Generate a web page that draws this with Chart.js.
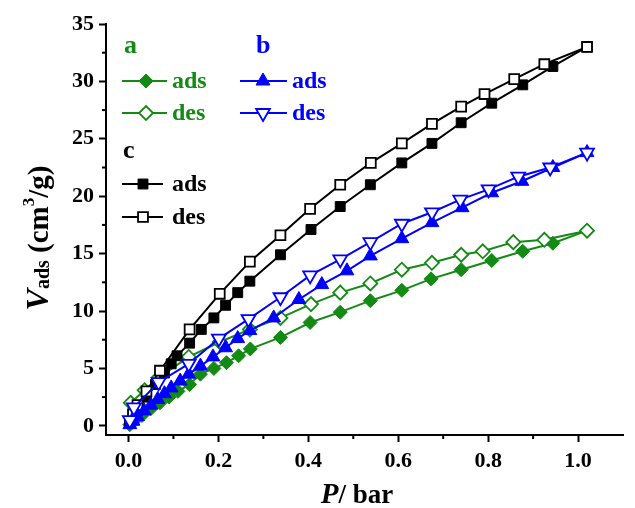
<!DOCTYPE html>
<html>
<head>
<meta charset="utf-8">
<script src="https://cdn.jsdelivr.net/npm/chart.js@4/dist/chart.umd.min.js"></script>
<style>
  body { margin: 0; background: #fff; }
  #wrap { width: 635px; height: 508px; }
</style>
</head>
<body>
<div id="wrap"><canvas id="isoChart" width="635" height="508"></canvas></div>
<script>
// pressure (bar) and adsorbed volume (cm3/g)
const cAdsP = [0.003, 0.02, 0.04, 0.06, 0.08, 0.095, 0.108, 0.136, 0.162, 0.19, 0.216, 0.243, 0.27, 0.338, 0.406, 0.471, 0.538, 0.608, 0.675, 0.74, 0.808, 0.877, 0.944, 1.02];
const cAdsV = [0.3, 1.3, 2.5, 3.6, 4.6, 5.4, 6.1, 7.2, 8.4, 9.4, 10.5, 11.6, 12.6, 14.9, 17.1, 19.1, 21.0, 22.9, 24.6, 26.4, 28.1, 29.7, 31.3, 33.0];
const cDesP = [0.003, 0.01, 0.02, 0.04, 0.07, 0.136, 0.203, 0.27, 0.338, 0.404, 0.471, 0.539, 0.608, 0.675, 0.74, 0.792, 0.858, 0.925, 1.02];
const cDesV = [0.3, 1.0, 1.8, 3.0, 4.8, 8.4, 11.5, 14.3, 16.6, 18.9, 21.0, 22.9, 24.6, 26.3, 27.8, 28.9, 30.2, 31.5, 33.0];

const aAdsP = [0.003, 0.015, 0.03, 0.05, 0.07, 0.09, 0.11, 0.136, 0.16, 0.19, 0.218, 0.245, 0.271, 0.338, 0.404, 0.471, 0.538, 0.608, 0.673, 0.74, 0.808, 0.877, 0.944, 1.02];
const aAdsV = [0.1, 0.5, 0.9, 1.5, 2.0, 2.5, 3.0, 3.6, 4.5, 5.0, 5.5, 6.1, 6.7, 7.7, 9.0, 9.9, 10.9, 11.8, 12.8, 13.6, 14.4, 15.2, 15.9, 17.0];
const aDesP = [0.005, 0.036, 0.067, 0.134, 0.203, 0.27, 0.338, 0.406, 0.471, 0.538, 0.608, 0.675, 0.74, 0.788, 0.856, 0.925, 1.02];
const aDesV = [2.0, 3.1, 4.2, 6.0, 7.3, 8.4, 9.4, 10.6, 11.6, 12.4, 13.6, 14.2, 14.9, 15.2, 16.0, 16.2, 17.0];

const bAdsP = [0.003, 0.01, 0.02, 0.035, 0.05, 0.065, 0.08, 0.095, 0.115, 0.134, 0.16, 0.188, 0.216, 0.243, 0.27, 0.323, 0.379, 0.43, 0.486, 0.538, 0.608, 0.675, 0.742, 0.808, 0.875, 0.944, 1.02];
const bAdsV = [0.1, 0.4, 0.8, 1.3, 1.8, 2.3, 2.8, 3.3, 3.9, 4.5, 5.2, 6.0, 6.8, 7.6, 8.3, 9.4, 11.0, 12.3, 13.5, 14.8, 16.3, 17.7, 19.0, 20.3, 21.3, 22.5, 23.8];
const bDesP = [0.003, 0.012, 0.067, 0.134, 0.201, 0.267, 0.338, 0.404, 0.471, 0.538, 0.608, 0.675, 0.738, 0.801, 0.867, 0.938, 1.02];
const bDesV = [0.5, 1.6, 3.8, 5.4, 7.6, 9.3, 11.2, 13.1, 14.5, 16.0, 17.6, 18.6, 19.7, 20.6, 21.7, 22.5, 23.8];

const xTicks = [0, 0.2, 0.4, 0.6, 0.8, 1.0];
const yTicks = [0, 5, 10, 15, 20, 25, 30, 35];
const xMinor = [0.1, 0.3, 0.5, 0.7, 0.9];
const yMinor = [2.5, 7.5, 12.5, 17.5, 22.5, 27.5, 32.5];

const green = '#138a13';
const blue = '#0000ff';
const black = '#000000';
const FONT = "'Liberation Serif', 'Times New Roman', serif";

function pts(px, py) {
    return px.map((p, i) => ({ x: p, y: py[i] }));
}

function series(label, px, py, color, style, filled, radius, rotation, order) {
    return {
        label: label,
        data: pts(px, py),
        borderColor: color,
        backgroundColor: color,
        borderWidth: 2,
        pointStyle: style,
        pointRadius: radius,
        pointRotation: rotation,
        pointBackgroundColor: filled ? color : '#ffffff',
        pointBorderColor: color,
        pointBorderWidth: filled ? 1 : 1.8,
        tension: 0,
        order: order
    };
}

// little marker drawer for the legend
function marker(ctx, style, x, y, r, color, filled) {
    ctx.save();
    ctx.beginPath();
    if (style === 'rect') {
        const s = r * Math.SQRT1_2;
        ctx.rect(x - s, y - s, 2 * s, 2 * s);
    } else if (style === 'rectRot') {
        ctx.moveTo(x, y - r); ctx.lineTo(x + r, y); ctx.lineTo(x, y + r); ctx.lineTo(x - r, y); ctx.closePath();
    } else if (style === 'up') {
        ctx.moveTo(x, y - r); ctx.lineTo(x + r * 0.866, y + r * 0.5); ctx.lineTo(x - r * 0.866, y + r * 0.5); ctx.closePath();
    } else {
        ctx.moveTo(x, y + r); ctx.lineTo(x + r * 0.866, y - r * 0.5); ctx.lineTo(x - r * 0.866, y - r * 0.5); ctx.closePath();
    }
    ctx.fillStyle = filled ? color : '#fff';
    ctx.fill();
    ctx.lineWidth = filled ? 1 : 1.8;
    ctx.strokeStyle = color;
    ctx.stroke();
    ctx.restore();
}

const decorPlugin = {
    id: 'decor',
    afterDraw(chart) {
        const ctx = chart.ctx;
        const xs = chart.scales.x, ys = chart.scales.y;
        ctx.save();
        ctx.strokeStyle = '#000';
        ctx.lineWidth = 2;
        // minor ticks
        xMinor.forEach(v => {
            const px = xs.getPixelForValue(v);
            ctx.beginPath(); ctx.moveTo(px, xs.top); ctx.lineTo(px, xs.top + 4); ctx.stroke();
        });
        yMinor.forEach(v => {
            const py = ys.getPixelForValue(v);
            ctx.beginPath(); ctx.moveTo(ys.right, py); ctx.lineTo(ys.right - 4, py); ctx.stroke();
        });

        // x axis title
        ctx.fillStyle = '#000';
        ctx.textBaseline = 'alphabetic';
        ctx.textAlign = 'left';
        ctx.font = 'italic bold 29px ' + FONT;
        const w1 = ctx.measureText('P').width;
        ctx.font = 'bold 27px ' + FONT;
        const w2 = ctx.measureText('/ bar').width;
        let sx = 357 - (w1 + w2) / 2;
        ctx.font = 'italic bold 29px ' + FONT;
        ctx.fillText('P', sx, 503);
        ctx.font = 'bold 27px ' + FONT;
        ctx.fillText('/ bar', sx + w1, 503);

        // y axis title (rotated)
        ctx.translate(48, 238);
        ctx.rotate(-Math.PI / 2);
        const parts = [
            { t: 'V', f: 'italic bold 32px ' + FONT, dy: 0 },
            { t: 'ads', f: 'bold 20px ' + FONT, dy: 1 },
            { t: ' (cm', f: 'bold 29px ' + FONT, dy: 0 },
            { t: '3', f: 'bold 17px ' + FONT, dy: -14 },
            { t: '/g)', f: 'bold 29px ' + FONT, dy: 0 }
        ];
        let total = 0;
        parts.forEach(p => { ctx.font = p.f; p.w = ctx.measureText(p.t).width; total += p.w; });
        let cx = -total / 2;
        parts.forEach(p => { ctx.font = p.f; ctx.fillText(p.t, cx, p.dy); cx += p.w; });
        ctx.restore();

        // legend
        ctx.save();
        ctx.textBaseline = 'middle';
        ctx.textAlign = 'left';
        ctx.font = 'bold 26px ' + FONT;
        ctx.fillStyle = green; ctx.fillText('a', 124, 46);
        ctx.fillStyle = blue; ctx.fillText('b', 256, 46);
        ctx.fillStyle = black; ctx.fillText('c', 123, 151);
        const rows = [
            { c: green, s: 'rectRot', f: true, x0: 122, x1: 167, m: 146, tx: 172, y: 81, t: 'ads', r: 7 },
            { c: green, s: 'rectRot', f: false, x0: 122, x1: 167, m: 146, tx: 172, y: 113, t: 'des', r: 7 },
            { c: blue, s: 'up', f: true, x0: 240, x1: 287, m: 263, tx: 292, y: 81, t: 'ads', r: 8 },
            { c: blue, s: 'down', f: false, x0: 240, x1: 287, m: 263, tx: 292, y: 113, t: 'des', r: 8 },
            { c: black, s: 'rect', f: true, x0: 122, x1: 163, m: 143, tx: 172, y: 184, t: 'ads', r: 7 },
            { c: black, s: 'rect', f: false, x0: 122, x1: 163, m: 143, tx: 172, y: 217, t: 'des', r: 7 }
        ];
        rows.forEach(r => {
            ctx.strokeStyle = r.c; ctx.lineWidth = 2;
            ctx.beginPath(); ctx.moveTo(r.x0, r.y); ctx.lineTo(r.x1, r.y); ctx.stroke();
            marker(ctx, r.s, r.m, r.y, r.r, r.c, r.f);
            ctx.font = 'bold 24px ' + FONT;
            ctx.fillStyle = r.c;
            ctx.fillText(r.t, r.tx, r.y + 1);
        });
        ctx.restore();
    }
};

const ctx = document.getElementById('isoChart').getContext('2d');
new Chart(ctx, {
    type: 'line',
    data: {
        datasets: [
            series('c ads', cAdsP, cAdsV, black, 'rect', true, 7, 0, 3),
            series('c des', cDesP, cDesV, black, 'rect', false, 7, 0, 2),
            series('a ads', aAdsP, aAdsV, green, 'rectRot', true, 7, 0, 5),
            series('a des', aDesP, aDesV, green, 'rectRot', false, 7, 0, 4),
            series('b ads', bAdsP, bAdsV, blue, 'triangle', true, 8, 0, 1),
            series('b des', bDesP, bDesV, blue, 'triangle', false, 8, 180, 0)
        ]
    },
    options: {
        responsive: false,
        animation: false,
        events: [],
        layout: { padding: { left: 0, right: 12, top: 24, bottom: 0 } },
        plugins: { legend: { display: false }, tooltip: { enabled: false } },
        scales: {
            x: {
                type: 'linear',
                min: -0.05,
                max: 1.1,
                afterBuildTicks: s => { s.ticks = xTicks.map(v => ({ value: v })); },
                afterFit: s => { s.height = 73; },
                border: { display: true, color: '#000', width: 2 },
                grid: { drawOnChartArea: false, drawTicks: true, tickLength: 7, tickWidth: 2, tickColor: '#000' },
                ticks: {
                    color: '#000',
                    padding: 6,
                    maxRotation: 0,
                    font: { family: FONT, size: 22, weight: 'bold' },
                    callback: v => v.toFixed(1)
                }
            },
            y: {
                type: 'linear',
                min: -0.8,
                max: 35,
                afterBuildTicks: s => { s.ticks = yTicks.map(v => ({ value: v })); },
                afterFit: s => { s.width = 106; },
                border: { display: true, color: '#000', width: 2 },
                grid: { drawOnChartArea: false, drawTicks: true, tickLength: 7, tickWidth: 2, tickColor: '#000' },
                ticks: {
                    color: '#000',
                    padding: 5,
                    font: { family: FONT, size: 22, weight: 'bold' }
                }
            }
        }
    },
    plugins: [decorPlugin]
});
</script>
</body>
</html>
